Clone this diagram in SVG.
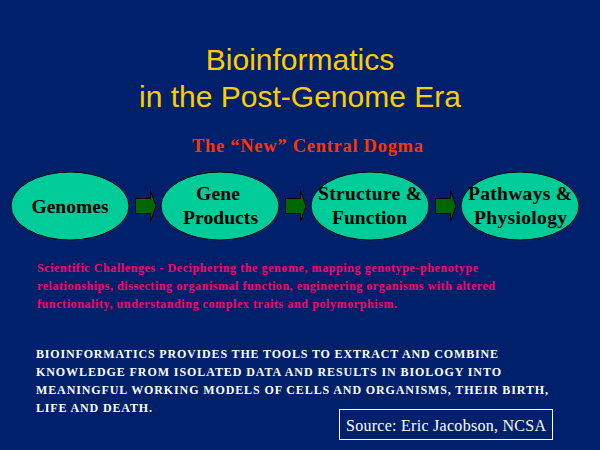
<svg xmlns="http://www.w3.org/2000/svg" width="600" height="450" viewBox="0 0 600 450">
<style>
.title{font-family:"Liberation Sans",Arial,sans-serif;font-size:30px;fill:#FFCC00;text-anchor:middle}
.sub{font-family:"Liberation Serif","Times New Roman",serif;font-size:18.5px;font-weight:bold;fill:#FF3300}
.node ellipse{fill:#00CC99;stroke:#000000;stroke-width:1}
.ntext{font-family:"Liberation Serif","Times New Roman",serif;font-size:19.5px;font-weight:bold;fill:#000000;text-anchor:middle}
.arrow{fill:#006600;stroke:#000000;stroke-width:1}
.chal{font-family:"Liberation Serif","Times New Roman",serif;font-size:12px;font-weight:bold;fill:#FF0066}
.body{font-family:"Liberation Serif","Times New Roman",serif;font-size:12px;font-weight:bold;fill:#FFFFFF}
.src{font-family:"Liberation Serif","Times New Roman",serif;font-size:16px;fill:#FFFFFF}
</style>
<rect width="600" height="450" fill="#00206B"/>
<text class="title" x="300" y="70">Bioinformatics</text>
<text class="title" x="300" y="107">in the Post-Genome Era</text>
<text class="sub" x="192" y="152" textLength="231" lengthAdjust="spacing">The “New” Central Dogma</text>
<g id="genomes" class="node"><ellipse cx="70" cy="206" rx="59" ry="34"/><text class="ntext" x="70" y="213" textLength="77" lengthAdjust="spacing">Genomes</text></g>
<g id="gene-products" class="node"><ellipse cx="220" cy="206" rx="59" ry="34"/><text class="ntext" x="218" y="200" textLength="44" lengthAdjust="spacing">Gene</text><text class="ntext" x="220.5" y="224" textLength="75" lengthAdjust="spacing">Products</text></g>
<g id="structure-function" class="node"><ellipse cx="370" cy="206" rx="59" ry="34"/><text class="ntext" x="370" y="200" textLength="104" lengthAdjust="spacing">Structure &amp;</text><text class="ntext" x="369.5" y="224" textLength="75" lengthAdjust="spacing">Function</text></g>
<g id="pathways-physiology" class="node"><ellipse cx="520" cy="206" rx="59" ry="34"/><text class="ntext" x="520" y="200" textLength="104" lengthAdjust="spacing">Pathways &amp;</text><text class="ntext" x="520.5" y="224" textLength="93" lengthAdjust="spacing">Physiology</text></g>
<g id="connectors">
<polygon class="arrow" points="135.5,198.5 150.5,198.5 150.5,190.5 156,206 150.5,221.5 150.5,213.5 135.5,213.5"/>
<polygon class="arrow" points="285.5,198.5 300.5,198.5 300.5,190.5 306,206 300.5,221.5 300.5,213.5 285.5,213.5"/>
<polygon class="arrow" points="435.5,198.5 450.5,198.5 450.5,190.5 456,206 450.5,221.5 450.5,213.5 435.5,213.5"/>
</g>
<text class="chal" x="37" y="272" textLength="441" lengthAdjust="spacing">Scientific Challenges - Deciphering the genome, mapping genotype-phenotype</text>
<text class="chal" x="37" y="290" textLength="458" lengthAdjust="spacing">relationships, dissecting organismal function, engineering organisms with altered</text>
<text class="chal" x="37" y="308" textLength="360" lengthAdjust="spacing">functionality, understanding complex traits and polymorphism.</text>
<text class="body" x="36" y="358" textLength="462" lengthAdjust="spacing">BIOINFORMATICS PROVIDES THE TOOLS TO EXTRACT AND COMBINE</text>
<text class="body" x="36" y="376" textLength="465" lengthAdjust="spacing">KNOWLEDGE FROM ISOLATED DATA AND RESULTS IN BIOLOGY INTO</text>
<text class="body" x="36" y="394" textLength="512" lengthAdjust="spacing">MEANINGFUL WORKING MODELS OF CELLS AND ORGANISMS, THEIR BIRTH,</text>
<text class="body" x="36" y="412" textLength="116" lengthAdjust="spacing">LIFE AND DEATH.</text>
<rect x="339.5" y="409.5" width="213" height="30" fill="none" stroke="#FFFFFF" stroke-width="1"/>
<text class="src" x="346" y="431" textLength="200" lengthAdjust="spacing">Source: Eric Jacobson, NCSA</text>
</svg>
